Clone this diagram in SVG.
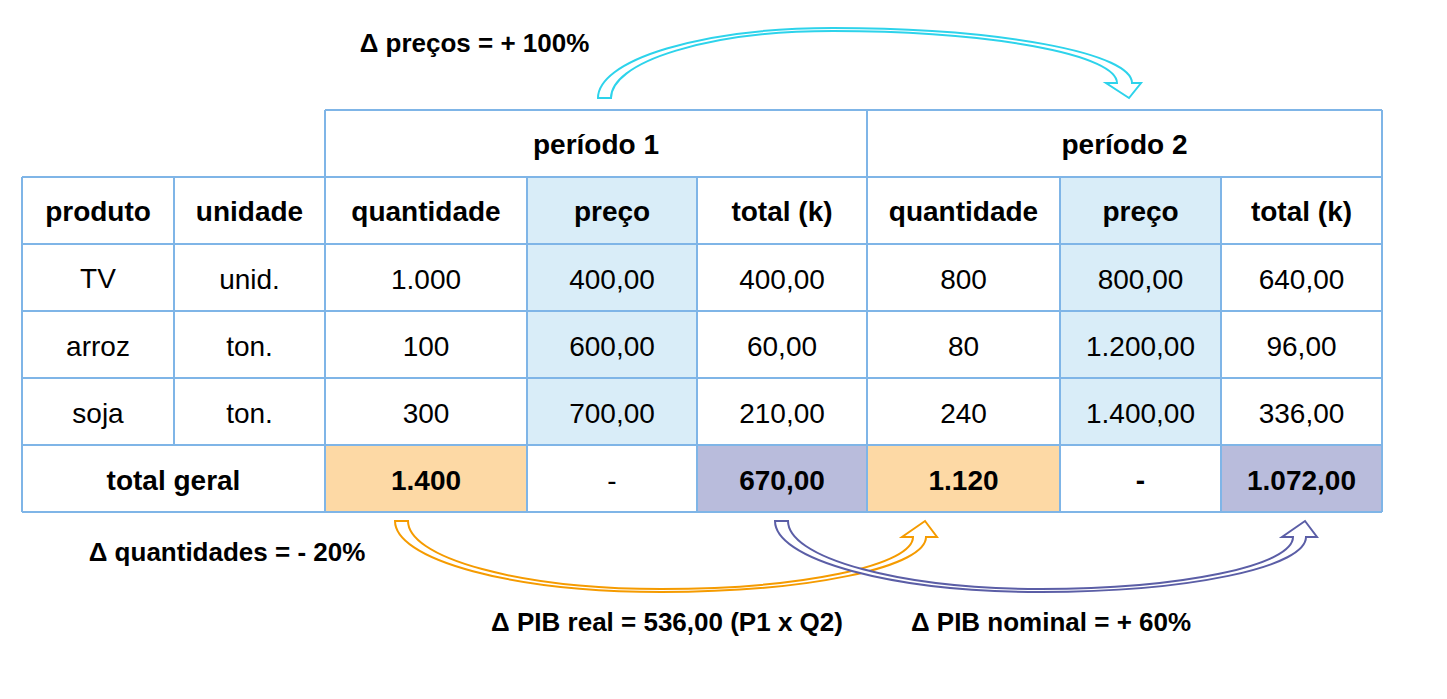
<svg xmlns="http://www.w3.org/2000/svg" width="1447" height="699" viewBox="0 0 1447 699">
<style>
  text { font-family: "Liberation Sans", Arial, sans-serif; fill: #000; text-anchor: middle; }
  .h { font-size: 28px; font-weight: bold; }
  .v { font-size: 28px; }
  .b { font-size: 28px; font-weight: bold; }
  .lbl { font-size: 26px; font-weight: bold; }
  .grid line { stroke: #7fb5e7; stroke-width: 2; }
  .price { fill: #d9edf8; }
  .peach { fill: #fdd9a5; }
  .lav { fill: #b9bcdc; }
  .arrow { fill: #ffffff; stroke-width: 2; stroke-linejoin: miter; }
</style>
<rect x="0" y="0" width="1447" height="699" fill="#ffffff"/>

<g id="cell-fills">
  <rect class="price" x="527" y="177" width="170" height="268"/>
  <rect class="price" x="1060" y="177" width="161" height="268"/>
  <rect class="peach" x="325" y="445" width="202" height="67"/>
  <rect class="lav" x="697" y="445" width="170" height="67"/>
  <rect class="peach" x="867" y="445" width="193" height="67"/>
  <rect class="lav" x="1221" y="445" width="161" height="67"/>
</g>

<g id="table-grid" class="grid">
  <line x1="325" y1="110" x2="1382" y2="110"/>
  <line x1="22" y1="177" x2="1382" y2="177"/>
  <line x1="22" y1="244" x2="1382" y2="244"/>
  <line x1="22" y1="311" x2="1382" y2="311"/>
  <line x1="22" y1="378" x2="1382" y2="378"/>
  <line x1="22" y1="445" x2="1382" y2="445"/>
  <line x1="22" y1="512" x2="1382" y2="512"/>
  <line x1="22" y1="177" x2="22" y2="512"/>
  <line x1="174" y1="177" x2="174" y2="445"/>
  <line x1="325" y1="110" x2="325" y2="512"/>
  <line x1="527" y1="177" x2="527" y2="512"/>
  <line x1="697" y1="177" x2="697" y2="512"/>
  <line x1="867" y1="110" x2="867" y2="512"/>
  <line x1="1060" y1="177" x2="1060" y2="512"/>
  <line x1="1221" y1="177" x2="1221" y2="512"/>
  <line x1="1382" y1="110" x2="1382" y2="512"/>
</g>

<g id="header-periods">
  <text class="h" x="596" y="154">período 1</text>
  <text class="h" x="1124.5" y="154">período 2</text>
</g>

<g id="header-columns">
  <text class="h" x="98" y="221">produto</text>
  <text class="h" x="249.5" y="221">unidade</text>
  <text class="h" x="426" y="221">quantidade</text>
  <text class="h" x="612" y="221">preço</text>
  <text class="h" x="782" y="221">total (k)</text>
  <text class="h" x="963.5" y="221">quantidade</text>
  <text class="h" x="1140.5" y="221">preço</text>
  <text class="h" x="1301.5" y="221">total (k)</text>
</g>

<g id="row-tv">
  <text class="v" x="98" y="288">TV</text>
  <text class="v" x="249.5" y="289">unid.</text>
  <text class="v" x="426" y="289">1.000</text>
  <text class="v" x="612" y="289">400,00</text>
  <text class="v" x="782" y="289">400,00</text>
  <text class="v" x="963.5" y="289">800</text>
  <text class="v" x="1140.5" y="289">800,00</text>
  <text class="v" x="1301.5" y="289">640,00</text>
</g>

<g id="row-arroz">
  <text class="v" x="98" y="356">arroz</text>
  <text class="v" x="249.5" y="356">ton.</text>
  <text class="v" x="426" y="356">100</text>
  <text class="v" x="612" y="356">600,00</text>
  <text class="v" x="782" y="356">60,00</text>
  <text class="v" x="963.5" y="356">80</text>
  <text class="v" x="1140.5" y="356">1.200,00</text>
  <text class="v" x="1301.5" y="356">96,00</text>
</g>

<g id="row-soja">
  <text class="v" x="98" y="423">soja</text>
  <text class="v" x="249.5" y="423">ton.</text>
  <text class="v" x="426" y="423">300</text>
  <text class="v" x="612" y="423">700,00</text>
  <text class="v" x="782" y="423">210,00</text>
  <text class="v" x="963.5" y="423">240</text>
  <text class="v" x="1140.5" y="423">1.400,00</text>
  <text class="v" x="1301.5" y="423">336,00</text>
</g>

<g id="row-total">
  <text class="b" x="173.5" y="490">total geral</text>
  <text class="b" x="426" y="490">1.400</text>
  <text class="v" x="612" y="490">-</text>
  <text class="b" x="782" y="490">670,00</text>
  <text class="b" x="963.5" y="490">1.120</text>
  <text class="b" x="1140.5" y="490">-</text>
  <text class="b" x="1301.5" y="490">1.072,00</text>
</g>

<g id="connectors">
  <path id="arrow-precos" class="arrow" stroke="#2dd3eb"
    d="M598,98 A235,70 0 0 1 833,28 A299,55 0 0 1 1132,83 L1141,83 L1129,98 L1106,83 L1117,83 A284,52 0 0 0 833,31 A222,67 0 0 0 611,98 Z"/>
  <path id="arrow-real" class="arrow" stroke="#f59b00"
    d="M395,521 A266,71 0 0 0 661,592 A265,55 0 0 0 926,537 L937,537 L925,521 L902,537 L913,537 A252,52 0 0 1 661,589 A253,68 0 0 1 408,521 Z"/>
  <path id="arrow-nominal" class="arrow" stroke="#5b5ea6"
    d="M775,521 A266,71 0 0 0 1041,592 A265,55 0 0 0 1306,537 L1317,537 L1305,521 L1282,537 L1293,537 A252,52 0 0 1 1041,589 A253,68 0 0 1 788,521 Z"/>
</g>

<g id="labels">
  <text class="lbl" x="474.5" y="52">Δ preços = + 100%</text>
  <text class="lbl" x="227" y="561">Δ quantidades = - 20%</text>
  <text class="lbl" x="667" y="631">Δ PIB real = 536,00 (P1 x Q2)</text>
  <text class="lbl" x="1051" y="631">Δ PIB nominal = + 60%</text>
</g>
</svg>
